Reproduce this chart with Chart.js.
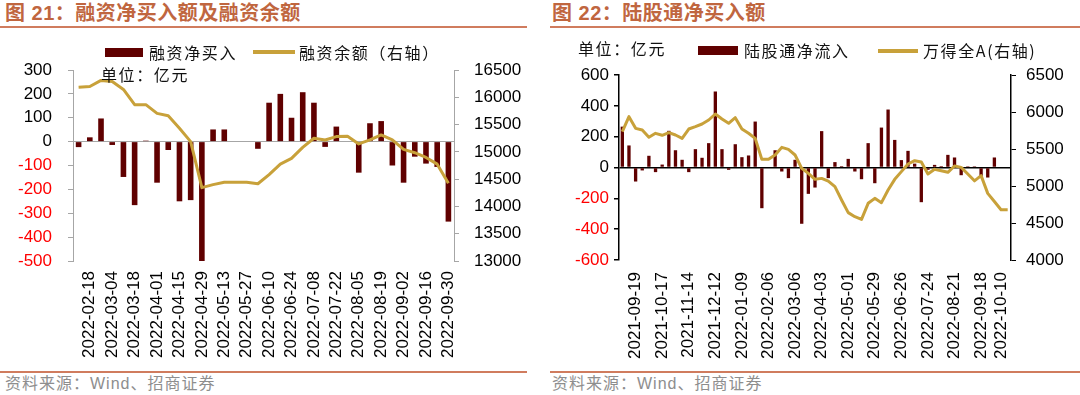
<!DOCTYPE html>
<html>
<head>
<meta charset="utf-8">
<script src="https://cdn.jsdelivr.net/npm/chart.js@4.4.0/dist/chart.umd.min.js"></script>
<style>
body{margin:0;width:1080px;height:395px;background:#fff;position:relative;overflow:hidden;font-family:"Liberation Sans","Noto Sans CJK SC",sans-serif;}
.abs{position:absolute;white-space:nowrap;}
.title{font-size:20px;font-weight:bold;color:#C0663F;letter-spacing:0.5px;line-height:26px;}
.rule{position:absolute;height:2px;background:#D07C5E;}
.src{font-size:16px;color:#8E8E8E;letter-spacing:1px;line-height:20px;}
.lg{font-size:16px;color:#111;letter-spacing:1.6px;line-height:20px;font-family:"Noto Sans CJK SC","Liberation Sans",sans-serif;}
canvas{position:absolute;top:0;}
</style>
</head>
<body>
<div class="abs title" style="left:5px;top:0;">图 21：融资净买入额及融资余额</div>
<div class="abs title" style="left:552px;top:0;">图 22：陆股通净买入额</div>
<div class="rule" style="left:0;top:26px;width:527px;"></div>
<div class="rule" style="left:550px;top:26px;width:530px;"></div>

<canvas id="leftChart" width="540" height="372" style="left:0;"></canvas>
<canvas id="rightChart" width="540" height="372" style="left:540px;"></canvas>

<!-- left legend -->
<div class="abs" style="left:105px;top:48px;width:38px;height:9px;background:#600000;"></div>
<div class="abs lg" style="left:149px;top:42px;">融资净买入</div>
<div class="abs" style="left:253px;top:50px;width:42px;height:4px;background:#C8A13A;"></div>
<div class="abs lg" style="left:299px;top:42px;">融资余额（右轴）</div>
<div class="abs lg" style="left:101px;top:64px;">单位：亿元</div>

<!-- right legend -->
<div class="abs lg" style="left:578px;top:38px;">单位：亿元</div>
<div class="abs" style="left:698px;top:46px;width:40px;height:9px;background:#600000;"></div>
<div class="abs lg" style="left:744px;top:40px;">陆股通净流入</div>
<div class="abs" style="left:878px;top:49px;width:40px;height:4px;background:#C8A13A;"></div>
<div class="abs lg" style="left:923px;top:40px;">万得全A(右轴)</div>

<div class="rule" style="left:0;top:371px;width:527px;"></div>
<div class="rule" style="left:550px;top:371px;width:530px;"></div>
<div class="abs src" style="left:5px;top:374px;">资料来源：Wind、招商证券</div>
<div class="abs src" style="left:552px;top:374px;">资料来源：Wind、招商证券</div>

<script>
// 图21 数据（周度）
var leftDates = ['2022-02-11','2022-02-18','2022-02-25','2022-03-04','2022-03-11','2022-03-18','2022-03-25',
	'2022-04-01','2022-04-08','2022-04-15','2022-04-22','2022-04-29','2022-05-06','2022-05-13','2022-05-20',
	'2022-05-27','2022-06-03','2022-06-10','2022-06-17','2022-06-24','2022-07-01','2022-07-08','2022-07-15',
	'2022-07-22','2022-07-29','2022-08-05','2022-08-12','2022-08-19','2022-08-26','2022-09-02','2022-09-09',
	'2022-09-16','2022-09-23','2022-09-30'];
var leftTickLabels = ['2022-02-18','2022-03-04','2022-03-18','2022-04-01','2022-04-15','2022-04-29','2022-05-13',
	'2022-05-27','2022-06-10','2022-06-24','2022-07-08','2022-07-22','2022-08-05','2022-08-19','2022-09-02',
	'2022-09-16','2022-09-30'];
var marginNetBuy = [-23, 18, 97, -14, -148, -266, 4, -172, -35, -250, -245, -500, 51, 51, 0, 0, -30, 163,
	200, 100, 207, 163, -22, 63, 2, -130, 77, 86, -100, -172, -63, -92, -106, -335];
var marginBalance = [16186, 16198, 16309, 16290, 16143, 15865, 15865, 15705, 15662, 15434, 15188, 14344,
	14399, 14442, 14442, 14442, 14415, 14584, 14775, 14880, 15083, 15250, 15218, 15280, 15285, 15145,
	15218, 15311, 15218, 15046, 14984, 14898, 14775, 14423];

// 图22 数据（周度）
var rightDates = ['2021-09-05','2021-09-12','2021-09-19','2021-09-26','2021-10-03','2021-10-10','2021-10-17',
	'2021-10-24','2021-10-31','2021-11-07','2021-11-14','2021-11-21','2021-11-28','2021-12-05','2021-12-12',
	'2021-12-19','2021-12-26','2022-01-02','2022-01-09','2022-01-16','2022-01-23','2022-01-30','2022-02-06',
	'2022-02-13','2022-02-20','2022-02-27','2022-03-06','2022-03-13','2022-03-20','2022-03-27','2022-04-03',
	'2022-04-10','2022-04-17','2022-04-24','2022-05-01','2022-05-08','2022-05-15','2022-05-22','2022-05-29',
	'2022-06-05','2022-06-12','2022-06-19','2022-06-26','2022-07-03','2022-07-10','2022-07-17','2022-07-24',
	'2022-07-31','2022-08-07','2022-08-14','2022-08-21','2022-08-28','2022-09-04','2022-09-11','2022-09-18',
	'2022-09-25','2022-10-02','2022-10-10',''];
var rightTickLabels = ['2021-09-19','2021-10-17','2021-11-14','2021-12-12','2022-01-09','2022-02-06','2022-03-06',
	'2022-04-03','2022-05-01','2022-05-29','2022-06-26','2022-07-24','2022-08-21','2022-09-18','2022-10-10'];
var northNetFlow = [265, 143, -91, -19, 76, -30, 19, 238, 112, 50, -30, 119, 63, 158, 493, 119, -15, 151, 67,
	78, 298, -264, 0, 112, -26, -69, 50, -365, -171, -130, 236, -69, 35, 9, 56, -26, -76, 158, -102, 259, 376,
	179, 48, 108, 25, -225, -15, 17, 9, 82, 65, -50, 8, 8, -58, -65, 65, null, null];
var windA = [5734, 5937, 5779, 5757, 5658, 5712, 5685, 5721, 5689, 5644, 5770, 5802, 5838, 5892, 5973, 5905,
	5847, 5923, 5770, 5712, 5644, 5360, 5360, 5419, 5522, 5495, 5419, 5239, 5171, 5090, 5103, 5067, 4991, 4811,
	4640, 4585, 4549, 4766, 4833, 4775, 4946, 5090, 5194, 5297, 5342, 5324, 5162, 5225, 5207, 5185, 5270, 5252,
	5162, 5070, 5140, 4900, 4790, 4680, 4680];

var BAR = '#600000';
var GOLD = '#C8A13A';
var TICKFONT = {family: '"Liberation Sans", Arial, sans-serif', size: 17};

function plain(v) { return String(v); }

function makeChart(id, o) {
	var ctx = document.getElementById(id);
	return new Chart(ctx, {
		type: 'bar',
		data: {
			labels: o.labels,
			datasets: [
				{
					type: 'line',
					data: o.line,
					yAxisID: 'y1',
					borderColor: GOLD,
					borderWidth: 3,
					pointRadius: 0,
					borderJoinStyle: 'round',
					tension: 0,
					order: 1
				},
				{
					type: 'bar',
					data: o.bars,
					yAxisID: 'y',
					backgroundColor: BAR,
					borderWidth: 0,
					categoryPercentage: 1,
					barPercentage: 0.5,
					order: 2
				}
			]
		},
		options: {
			responsive: false,
			animation: false,
			devicePixelRatio: 1,
			layout: {padding: {top: o.top, left: 0, right: 0, bottom: 0}},
			plugins: {legend: {display: false}, tooltip: {enabled: false}},
			scales: {
				x: {
					grid: {display: false, drawTicks: false},
					border: {display: false},
					ticks: {
						autoSkip: false,
						minRotation: 90,
						maxRotation: 90,
						padding: o.xPad,
						color: '#000',
						font: TICKFONT,
						callback: function(v, i) {
							var lab = o.labels[i];
							return o.tickLabels.indexOf(lab) >= 0 ? lab : '';
						}
					},
					afterFit: function(s) { s.height = o.xHeight; }
				},
				y: {
					position: 'left',
					min: o.yMin, max: o.yMax,
					ticks: {
						stepSize: o.yStep,
						padding: o.yPad,
						font: TICKFONT,
						callback: plain,
						color: function(c) { return c.tick && c.tick.value < 0 ? '#FF0000' : '#000'; }
					},
					grid: {
						color: function(c) { return c.tick && c.tick.value === 0 ? o.axisColor : 'rgba(0,0,0,0)'; },
						tickColor: o.axisColor,
						tickLength: 5,
						lineWidth: o.zeroWidth
					},
					border: {color: o.axisColor, width: o.axisWidth},
					afterFit: function(s) { s.width = o.leftW; }
				},
				y1: {
					position: 'right',
					min: o.y1Min, max: o.y1Max,
					ticks: {stepSize: o.y1Step, padding: o.y1Pad, font: TICKFONT, color: '#000', callback: plain},
					grid: {drawOnChartArea: false, tickColor: o.axisColor, tickLength: 5},
					border: {color: o.axisColor, width: o.axisWidth},
					afterFit: function(s) { s.width = o.rightW; }
				}
			}
		}
	});
}

makeChart('leftChart', {
	labels: leftDates, tickLabels: leftTickLabels, bars: marginNetBuy, line: marginBalance,
	top: 70, xHeight: 111, xPad: 10, leftW: 73, rightW: 86,
	yMin: -500, yMax: 300, yStep: 100, yPad: 16,
	y1Min: 13000, y1Max: 16500, y1Step: 500, y1Pad: 15,
	axisColor: '#A6A6A6', axisWidth: 1, zeroWidth: 1
});

makeChart('rightChart', {
	labels: rightDates, tickLabels: rightTickLabels, bars: northNetFlow, line: windA,
	top: 75, xHeight: 112, xPad: 12, leftW: 79, rightW: 69,
	yMin: -600, yMax: 600, yStep: 200, yPad: 5,
	y1Min: 4000, y1Max: 6500, y1Step: 500, y1Pad: 10,
	axisColor: '#000', axisWidth: 1.5, zeroWidth: 1.5
});
</script>
</body>
</html>
